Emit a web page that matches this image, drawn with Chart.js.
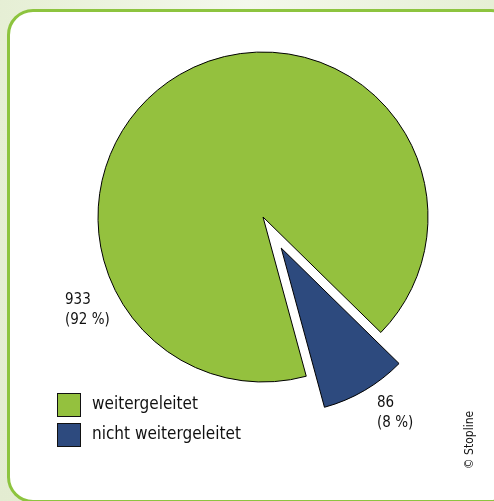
<!DOCTYPE html>
<html>
<head>
<meta charset="utf-8">
<script src="https://cdn.jsdelivr.net/npm/chart.js@4/dist/chart.umd.min.js"></script>
<style>
  body { margin: 0; }
  #bg {
    position: relative; width: 494px; height: 501px; overflow: hidden;
    background: radial-gradient(ellipse at 50% 0%, #f4f8ec 0%, #e6efd5 70%, #e3ecd1 100%);
  }
  #panel {
    position: absolute; left: 7px; top: 9px; width: 504px; height: 488px;
    background: #fff; border: 3px solid #8dc43f; border-radius: 26px;
  }
  #grafico { position: absolute; left: 0; top: 0; }
</style>
</head>
<body>
<div id="bg">
  <div id="panel"></div>
  <canvas id="grafico" width="494" height="501"></canvas>
</div>
<script>
const categorias = ['weitergeleitet', 'nicht weitergeleitet'];
const valores = [933, 86];
const colores = ['#94c13e', '#2d4a7e'];
const separacion = [0, 36];
const fuente = '"DejaVu Sans Condensed", "DejaVu Sans", sans-serif';

const total = valores.reduce((a, b) => a + b, 0);

// desplaza el sector sin agrandar su radio (el offset de Chart.js lo agranda)
const separarPlugin = {
  id: 'separar',
  beforeDatasetsDraw(chart) {
    chart.getDatasetMeta(0).data.forEach((arc, i) => {
      if (!separacion[i] || arc._dibujoOriginal) return;
      arc._dibujoOriginal = arc.draw;
      arc.draw = function(ctx) {
        const medio = (this.startAngle + this.endAngle) / 2;
        ctx.save();
        ctx.translate(Math.cos(medio) * separacion[i], Math.sin(medio) * separacion[i]);
        this._dibujoOriginal(ctx);
        ctx.restore();
      };
    });
  }
};

// etiquetas de valores y leyenda dibujadas a mano
const etiquetasPlugin = {
  id: 'etiquetas',
  afterDraw(chart) {
    const ctx = chart.ctx;
    const pos = [[65, 300], [377, 403]];
    ctx.save();
    ctx.fillStyle = '#111';
    ctx.textBaseline = 'middle';
    ctx.textAlign = 'left';
    ctx.font = '15px ' + fuente;
    valores.forEach((v, i) => {
      const pct = Math.round(v / total * 100);
      ctx.fillText(String(v), pos[i][0], pos[i][1]);
      ctx.fillText('(' + pct + ' %)', pos[i][0], pos[i][1] + 20);
    });

    ctx.font = '17px ' + fuente;
    categorias.forEach((nombre, i) => {
      const y = 393 + i * 30;
      ctx.fillStyle = colores[i];
      ctx.fillRect(57, y, 24, 24);
      ctx.strokeStyle = '#111';
      ctx.lineWidth = 1;
      ctx.strokeRect(57.5, y + 0.5, 23, 23);
      ctx.fillStyle = '#111';
      ctx.fillText(nombre, 92, y + 12);
    });

    ctx.translate(469.5, 440);
    ctx.rotate(-Math.PI / 2);
    ctx.textAlign = 'center';
    ctx.font = '12px ' + fuente;
    ctx.fillText('© Stopline', 0, 0);
    ctx.restore();
  }
};

new Chart(document.getElementById('grafico'), {
  type: 'pie',
  data: {
    labels: categorias,
    datasets: [{
      data: valores,
      backgroundColor: colores,
      borderColor: '#000',
      borderWidth: 1
    }]
  },
  options: {
    responsive: false,
    animation: false,
    rotation: 164.8,
    radius: 165,
    layout: { padding: { left: 32, right: 0, top: 0, bottom: 67 } },
    plugins: { legend: { display: false }, tooltip: { enabled: false } }
  },
  plugins: [separarPlugin, etiquetasPlugin]
});
</script>
</body>
</html>
